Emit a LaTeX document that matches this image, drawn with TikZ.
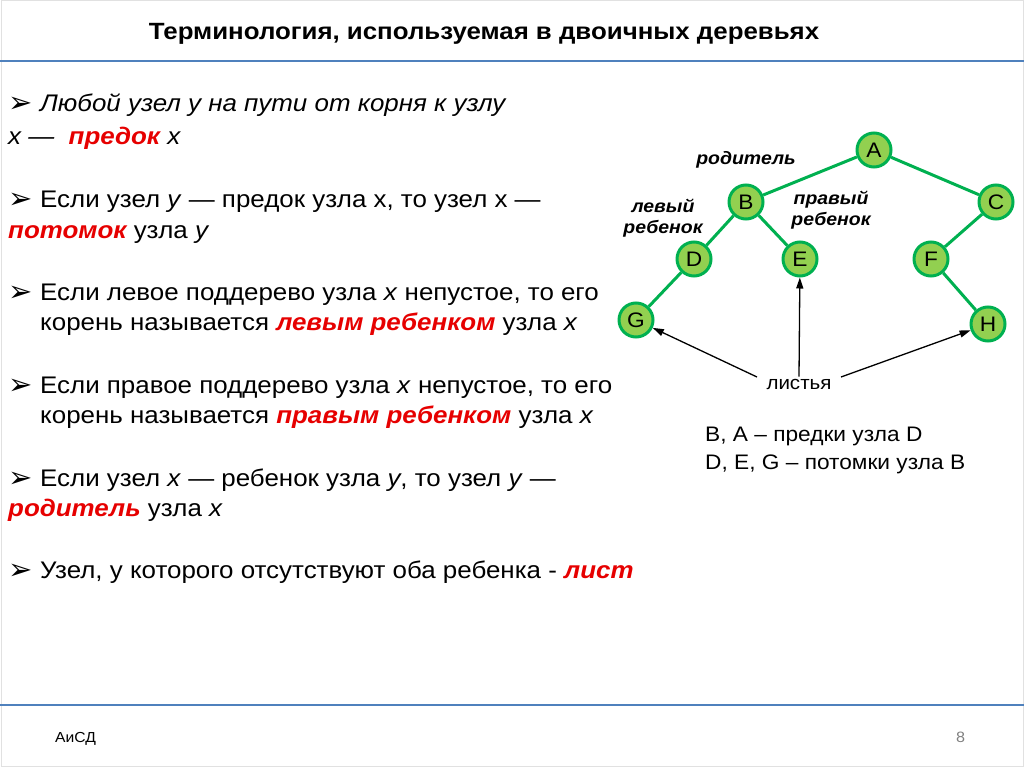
\documentclass[tikz,border=0pt]{standalone}
\usepackage{fontspec}
\setmainfont{Liberation Sans}[FakeStretch=1.08]
\newfontfamily\titlefont{Liberation Sans}[FakeStretch=1.1]
\newfontfamily\symfont{DejaVu Sans}
\usetikzlibrary{arrows.meta}
\definecolor{hdr}{RGB}{79,129,189}
\definecolor{redA}{RGB}{230,0,0}
\definecolor{nfill}{RGB}{146,208,80}
\definecolor{nline}{RGB}{0,176,80}
\definecolor{frameC}{RGB}{225,225,225}
\newcommand\hl[1]{\textcolor{redA}{\bfseries\itshape #1}}
\newcommand\bul{{\symfont\fontsize{29}{29}\selectfont ➢}}
\tikzset{
  tnode/.style={circle, draw=nline, line width=3pt, fill=nfill, minimum size=34pt, inner sep=0pt, font=\fontsize{21}{21}\selectfont},
  tedge/.style={draw=nline, line width=3pt},
  body/.style={anchor=base west, inner sep=0pt, font=\fontsize{24}{24}\selectfont},
  blt/.style={anchor=base west, inner sep=0pt},
  lbl/.style={inner sep=0pt, align=center, font=\fontsize{18}{21}\selectfont\bfseries\itshape},
  note/.style={anchor=base west, inner sep=0pt, font=\fontsize{21}{21}\selectfont},
  leafarrow/.style={-{Triangle[length=11pt,width=7pt]}, line width=1.3pt},
  rule/.style={draw=hdr, line width=2pt}
}
\begin{document}
\begin{tikzpicture}[x=1pt,y=-1pt]
\useasboundingbox (0,0) rectangle (1024,767);
\draw[frameC, line width=1pt] (1,1) rectangle (1023,766);
% title and rules
\node[inner sep=0pt, anchor=base, font=\titlefont\fontsize{23.5}{23.5}\selectfont\bfseries] (title) at (484,39.5) {Терминология, используемая в двоичных деревьях};
\coordinate (hl) at (0,61); \coordinate (hr) at (1024,61);
\draw[rule] (hl) -- (hr);
\coordinate (fl) at (0,705); \coordinate (fr) at (1024,705);
\draw[rule] (fl) -- (fr);
\node[anchor=base west, inner sep=0pt, font=\fontsize{14.5}{14.5}\selectfont] (foot) at (55,742) {АиСД};
\node[anchor=base west, inner sep=0pt, text=gray, font=\fontsize{15}{15}\selectfont] (pg) at (956,742) {8};
% bullets
\node[blt] (b1) at (8,113) {\bul};
\node[blt] (b2) at (8,209) {\bul};
\node[blt] (b3) at (8,301) {\bul};
\node[blt] (b4) at (8,394) {\bul};
\node[blt] (b5) at (8,487) {\bul};
\node[blt] (b6) at (8,579) {\bul};
% body text
\node[body] (t1a) at (40,112) {\itshape Любой узел у на пути от корня к узлу};
\node[body] (t1b) at (8,145) {\itshape х —\ \ \hl{предок} х};
\node[body] (t2a) at (40,208) {Если узел \textit{у} — предок узла х, то узел х —};
\node[body] (t2b) at (8,238) {\hl{потомок} узла \textit{у}};
\node[body] (t3a) at (40,300) {Если левое поддерево узла \textit{х} непустое, то его};
\node[body] (t3b) at (40,330) {корень называется \hl{левым ребенком} узла \textit{х}};
\node[body] (t4a) at (40,393) {Если правое поддерево узла \textit{х} непустое, то его};
\node[body] (t4b) at (40,423) {корень называется \hl{правым ребенком} узла \textit{х}};
\node[body] (t5a) at (40,486) {Если узел \textit{х} — ребенок узла \textit{у}, то узел \textit{у} —};
\node[body] (t5b) at (8,516) {\hl{родитель} узла \textit{х}};
\node[body] (t6a) at (40,578) {Узел, у которого отсутствуют оба ребенка - \hl{лист}};
% tree
\node[tnode] (A) at (874,150) {A};
\node[tnode] (B) at (746,202) {B};
\node[tnode] (C) at (996,202) {C};
\node[tnode] (D) at (694,259) {D};
\node[tnode] (E) at (800,259) {E};
\node[tnode] (F) at (931,259) {F};
\node[tnode] (G) at (636,320) {G};
\node[tnode] (H) at (988,324) {H};
\draw[tedge] (A) -- (B);
\draw[tedge] (A) -- (C);
\draw[tedge] (B) -- (D);
\draw[tedge] (B) -- (E);
\draw[tedge] (C) -- (F);
\draw[tedge] (D) -- (G);
\draw[tedge] (F) -- (H);
\node[lbl] (par) at (746,160) {родитель};
\node[lbl] (lch) at (663,218) {левый\\ребенок};
\node[lbl] (rch) at (831,210) {правый\\ребенок};
\node[inner sep=0pt, font=\fontsize{19}{19}\selectfont] (lv) at (799,384) {листья};
\coordinate (lvG) at (757,377);
\coordinate (lvH) at (841,377);
\draw[leafarrow] (lvG) -- (G);
\draw[leafarrow] (lv.north) ++(0,-2) -- (E);
\draw[leafarrow] (lvH) -- (H);
\node[note] (n1) at (705,441) {B, A – предки узла D};
\node[note] (n2) at (705,469) {D, E, G – потомки узла B};
\end{tikzpicture}
\end{document}
